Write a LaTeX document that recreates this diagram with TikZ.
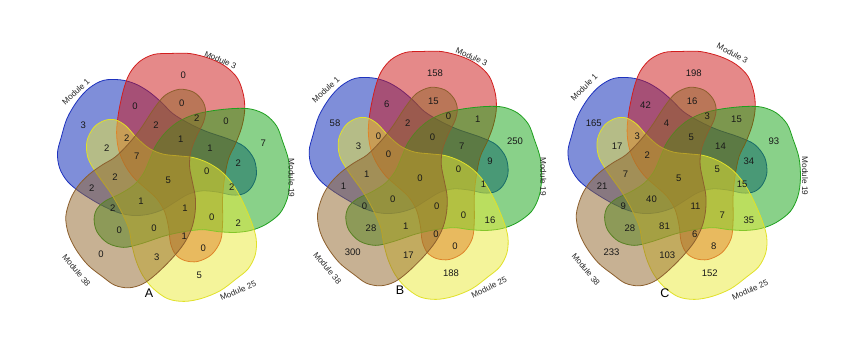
\documentclass[tikz,border=0pt]{standalone}
\usepackage{fontspec}
\setmainfont{Liberation Sans}
\definecolor{fblue}{RGB}{0,30,180}
\definecolor{fred}{RGB}{205,20,20}
\definecolor{fgreen}{RGB}{20,165,20}
\definecolor{fyellow}{RGB}{235,235,55}
\definecolor{fbrown}{RGB}{145,100,40}
\definecolor{lblue}{RGB}{30,50,190}
\definecolor{lred}{RGB}{210,30,30}
\definecolor{lgreen}{RGB}{30,160,30}
\definecolor{lyellow}{RGB}{225,225,40}
\definecolor{lbrown}{RGB}{140,95,45}
% #1 style, #2 cx, #3 cy, #4 rotation, #5 horizontal scale, #6 pivot offset
\newcommand\vennset[6]{%
  \begin{scope}[shift={({#2+#6},#3)},xscale=#5,shift={({-#6},0)},rotate=#4]
    \filldraw[#1] plot[smooth cycle,tension=0.55] coordinates {
      (2,-124) (22,-124) (42,-119) (58,-111) (70,-99) (76,-82) (77,-66)
      (74,-50) (68,-34) (61,-19) (57,0) (55,20) (55,45) (53,63) (44,77)
      (30,84) (17,83) (8,77) (3,66) (1,50) (-3,34) (-11,21) (-23,10)
      (-34,0) (-43,-13) (-49,-28) (-51,-45) (-49,-65) (-44,-88) (-38,-104)
      (-28,-116) (-14,-123)};
  \end{scope}}
\newcommand\vennpanel[2]{%
  \vennset{setblue}{#1}{#2}{72}{0.945}{82}
  \vennset{setred}{#1}{#2}{0}{1}{0}
  \vennset{setgreen}{#1}{#2}{-72}{0.98}{-65}
  \vennset{setyellow}{#1}{#2}{216}{0.98}{-70}
  \vennset{setbrown}{#1}{#2}{144}{0.91}{30}}
\begin{document}
\begin{tikzpicture}[x=1pt,y=-1pt,
  setblue/.style={fill=fblue,fill opacity=.5,draw=lblue,line width=.8pt},
  setred/.style={fill=fred,fill opacity=.5,draw=lred,line width=.8pt},
  setgreen/.style={fill=fgreen,fill opacity=.5,draw=lgreen,line width=.8pt},
  setyellow/.style={fill=fyellow,fill opacity=.5,draw=lyellow,line width=.8pt},
  setbrown/.style={fill=fbrown,fill opacity=.5,draw=lbrown,line width=.8pt},
  num/.style={font=\fontsize{9.5}{10}\selectfont,inner sep=0pt,text=black!90},
  modlab/.style={font=\fontsize{8.2}{9}\selectfont,inner sep=0pt,text=black!85},
  panlab/.style={font=\fontsize{12.5}{13}\selectfont,inner sep=0pt}]
\useasboundingbox[fill=white] (0,0) rectangle (856,347);
\vennpanel{167.6}{177.5}
\vennpanel{419.3}{175.5}
\vennpanel{678.1}{175.5}
\foreach \px/\py/\na/\nb/\nc [count=\i] in {
  183.3/75/0/158/198, 135/106.7/0/6/42, 181.7/103.3/0/15/16,
  196.7/118.3/2/0/3, 226/121.7/0/1/15, 83.3/125/3/58/165,
  156/125/2/2/4, 180.7/139.3/1/0/5, 263.3/143.3/7/250/93,
  126.7/138.3/2/0/3, 106.7/148.3/2/3/17, 136.7/156.7/7/0/2,
  210/148.3/1/7/14, 238.3/163.3/2/9/34, 168.3/180/5/0/5,
  206.7/171.7/0/0/5, 115/176.7/2/1/7, 91.7/188.3/2/1/21,
  231.7/186.7/2/1/15, 141/201.7/1/0/40, 112.7/208.3/2/0/9,
  185/208.3/1/0/11, 211.7/217.3/0/0/7, 238.3/222.7/2/16/35,
  119.3/230.7/0/28/28, 154/228.3/0/1/81, 184.3/236/1/0/6,
  203.3/248.3/0/0/8, 101/254/0/300/233, 156.7/257.3/3/17/103,
  199.3/275/5/188/152}{
  \node[num] (a\i) at (\px,\py) {\na};
  \node[num] (b\i) at (\px+251.7,\py-2) {\nb};
  \node[num] (c\i) at (\px+510.5,\py-2) {\nc};
}
% set labels
\node[modlab,rotate=43] (am1) at (75.8,91.7) {Module 1};
\node[modlab,rotate=-23] (am3) at (220.5,60) {Module 3};
\node[modlab,rotate=-90] (am19) at (291.5,178) {Module 19};
\node[modlab,rotate=23] (am25) at (238,290.8) {Module 25};
\node[modlab,rotate=-50] (am38) at (76.5,270.5) {Module 38};
\node[modlab,rotate=43] (bm1) at (325.8,90) {Module 1};
\node[modlab,rotate=-24] (bm3) at (471.7,56.7) {Module 3};
\node[modlab,rotate=-90] (bm19) at (543.3,176.7) {Module 19};
\node[modlab,rotate=26] (bm25) at (489,287.5) {Module 25};
\node[modlab,rotate=-50] (bm38) at (327.5,268) {Module 38};
\node[modlab,rotate=45] (cm1) at (584,87.5) {Module 1};
\node[modlab,rotate=-28] (cm3) at (732.5,53.3) {Module 3};
\node[modlab,rotate=-90] (cm19) at (805,176) {Module 19};
\node[modlab,rotate=24] (cm25) at (750,290) {Module 25};
\node[modlab,rotate=-50] (cm38) at (586,269.5) {Module 38};
% panel letters
\node[panlab] (pa) at (149,293.5) {A};
\node[panlab] (pb) at (400,290) {B};
\node[panlab] (pc) at (665,292.7) {C};
\end{tikzpicture}
\end{document}
